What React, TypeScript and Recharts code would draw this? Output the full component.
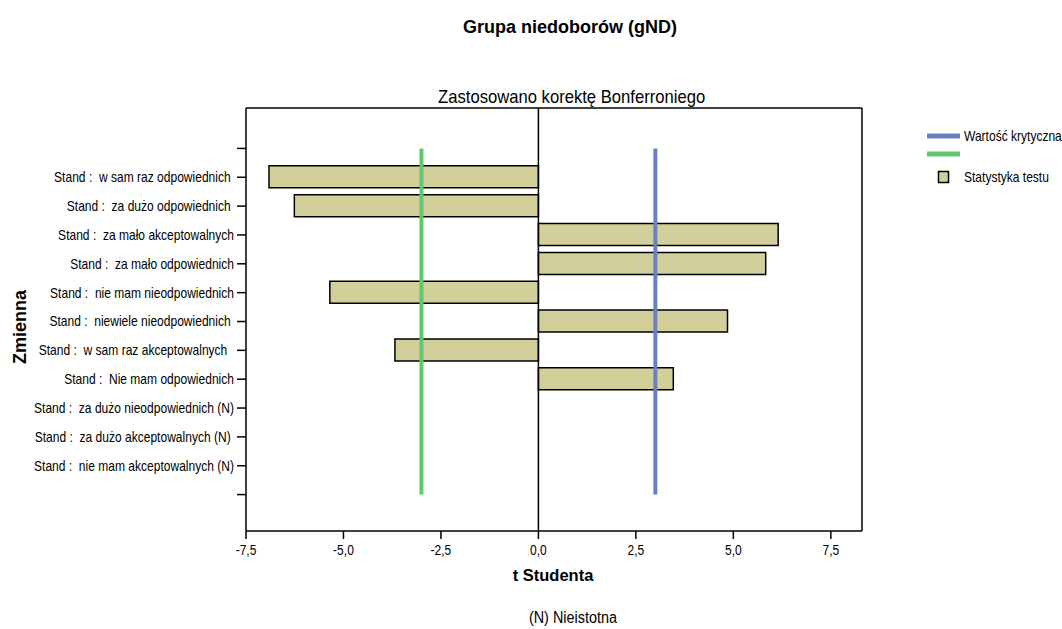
import { Bar, ComposedChart, Line, ReferenceLine, XAxis, YAxis } from "recharts";

const categories = [
  "",
  "Stand :  w sam raz odpowiednich ",
  "Stand :  za dużo odpowiednich ",
  "Stand :  za mało akceptowalnych",
  "Stand :  za mało odpowiednich",
  "Stand :  nie mam nieodpowiednich",
  "Stand :  niewiele nieodpowiednich ",
  "Stand :  w sam raz akceptowalnych  ",
  "Stand :  Nie mam odpowiednich",
  "Stand :  za dużo nieodpowiednich (N)",
  "Stand :  za dużo akceptowalnych (N) ",
  "Stand :  nie mam akceptowalnych (N)",
  "",
];
const tValues = [null, -6.91, -6.26, 6.15, 5.83, -5.35, 4.85, -3.68, 3.46, 0, 0, 0, null];
const critHigh = [3.0, 3.0, 3.0, 3.0, 3.0, 3.0, 3.0, 3.0, 3.0, 3.0, 3.0, 3.0, 3.0];
const critLow = [-3.0, -3.0, -3.0, -3.0, -3.0, -3.0, -3.0, -3.0, -3.0, -3.0, -3.0, -3.0, -3.0];
const xTicks = [-7.5, -5, -2.5, 0, 2.5, 5, 7.5];
const xDomain = [-7.5, 8.3];

const rows = categories.map((name, i) => ({
  name,
  t: tValues[i],
  critHigh: critHigh[i],
  critLow: critLow[i],
}));

const sans = '"Liberation Sans", Arial, sans-serif';
const BLUE = "#6b80c3";
const GREEN = "#5fc86c";
const TAN = "#d3cf9a";
const SQUEEZE = 0.86;

const fmt = (v: number) => v.toFixed(1).replace(".", ",");

// the original uses a condensed Arial; squeeze Liberation Sans horizontally
function YTick(props: any) {
  const { x, y, payload } = props;
  return (
    <text
      transform={`translate(${x},${y}) scale(${SQUEEZE},1)`}
      textAnchor="end"
      dy="0.35em"
      fontFamily={sans}
      fontSize={14}
      fill="#000"
      style={{ whiteSpace: "pre" }}
    >
      {payload.value}
    </text>
  );
}

function XTick(props: any) {
  const { x, y, payload } = props;
  return (
    <text
      transform={`translate(${x},${y}) scale(${SQUEEZE},1)`}
      textAnchor="middle"
      dy="0.9em"
      fontFamily={sans}
      fontSize={14}
      fill="#000"
    >
      {fmt(payload.value)}
    </text>
  );
}

function Narrow({ children, size, scale = SQUEEZE }: { children: any; size: number; scale?: number }) {
  return (
    <span
      style={{
        display: "inline-block",
        fontFamily: sans,
        fontSize: size,
        transform: `scaleX(${scale})`,
        whiteSpace: "nowrap",
      }}
    >
      {children}
    </span>
  );
}

export default function App() {
  return (
    <div style={{ position: "absolute", left: 0, top: 0, width: 1062, height: 629, background: "#fff" }}>
      <div style={{ position: "absolute", left: 0, width: 1140, top: 17, textAlign: "center", fontFamily: sans, fontWeight: "bold", fontSize: 18 }}>
        Grupa niedoborów (gND)
      </div>
      <div style={{ position: "absolute", left: 0, width: 1144, top: 86, textAlign: "center" }}>
        <Narrow size={19} scale={0.875}>Zastosowano korektę Bonferroniego</Narrow>
      </div>
      <ComposedChart
        width={1062}
        height={629}
        data={rows}
        layout="vertical"
        margin={{ top: 107, right: 199, bottom: 60, left: 0 }}
      >
        <XAxis
          type="number"
          domain={xDomain}
          ticks={xTicks}
          allowDataOverflow
          height={38}
          tickSize={8}
          tickMargin={3}
          stroke="#000"
          strokeWidth={1.5}
          tick={<XTick />}
        />
        <XAxis
          xAxisId="top"
          orientation="top"
          type="number"
          domain={xDomain}
          allowDataOverflow
          height={1}
          tick={false}
          tickLine={false}
          stroke="#000"
          strokeWidth={1.5}
        />
        <YAxis
          type="category"
          dataKey="name"
          width={246}
          padding={{ top: 26, bottom: 22 }}
          interval={0}
          tickSize={9}
          tickMargin={3}
          stroke="#000"
          strokeWidth={1.5}
          tick={<YTick />}
        />
        <YAxis
          yAxisId="right"
          orientation="right"
          type="category"
          dataKey="name"
          width={1}
          tick={false}
          tickLine={false}
          stroke="#000"
          strokeWidth={1.5}
        />
        <ReferenceLine x={0} stroke="#000" strokeWidth={1.5} />
        <Bar dataKey="t" barSize={22} fill={TAN} stroke="#000" strokeWidth={1.5} isAnimationActive={false} />
        <Line dataKey="critLow" stroke={GREEN} strokeWidth={4} dot={false} isAnimationActive={false} />
        <Line dataKey="critHigh" stroke={BLUE} strokeWidth={4} dot={false} isAnimationActive={false} />
      </ComposedChart>
      <div style={{ position: "absolute", left: 0, width: 1106, top: 566, textAlign: "center", fontFamily: sans, fontWeight: "bold", fontSize: 16.5 }}>
        t Studenta
      </div>
      <div style={{ position: "absolute", left: 0, width: 1145, top: 609, textAlign: "center" }}>
        <Narrow size={16} scale={0.9}>(N) Nieistotna</Narrow>
      </div>
      <div
        style={{
          position: "absolute",
          left: 20,
          top: 327,
          transform: "translate(-50%, -50%) rotate(-90deg)",
          fontFamily: sans,
          fontWeight: "bold",
          fontSize: 18,
          whiteSpace: "nowrap",
        }}
      >
        Zmienna
      </div>
      <svg width={140} height={70} style={{ position: "absolute", left: 922, top: 126 }}>
        <line x1={5} x2={38} y1={10} y2={10} stroke={BLUE} strokeWidth={5} />
        <text x={42} y={10} dy="0.35em" transform={`translate(42,0) scale(${SQUEEZE},1) translate(-42,0)`} fontFamily={sans} fontSize={14}>
          Wartość krytyczna
        </text>
        <line x1={5} x2={38} y1={28} y2={28} stroke={GREEN} strokeWidth={5} />
        <rect x={16.5} y={45.5} width={10} height={11} fill={TAN} stroke="#000" strokeWidth={1.5} />
        <text x={42} y={51} dy="0.35em" transform={`translate(42,0) scale(${SQUEEZE},1) translate(-42,0)`} fontFamily={sans} fontSize={14}>
          Statystyka testu
        </text>
      </svg>
    </div>
  );
}
